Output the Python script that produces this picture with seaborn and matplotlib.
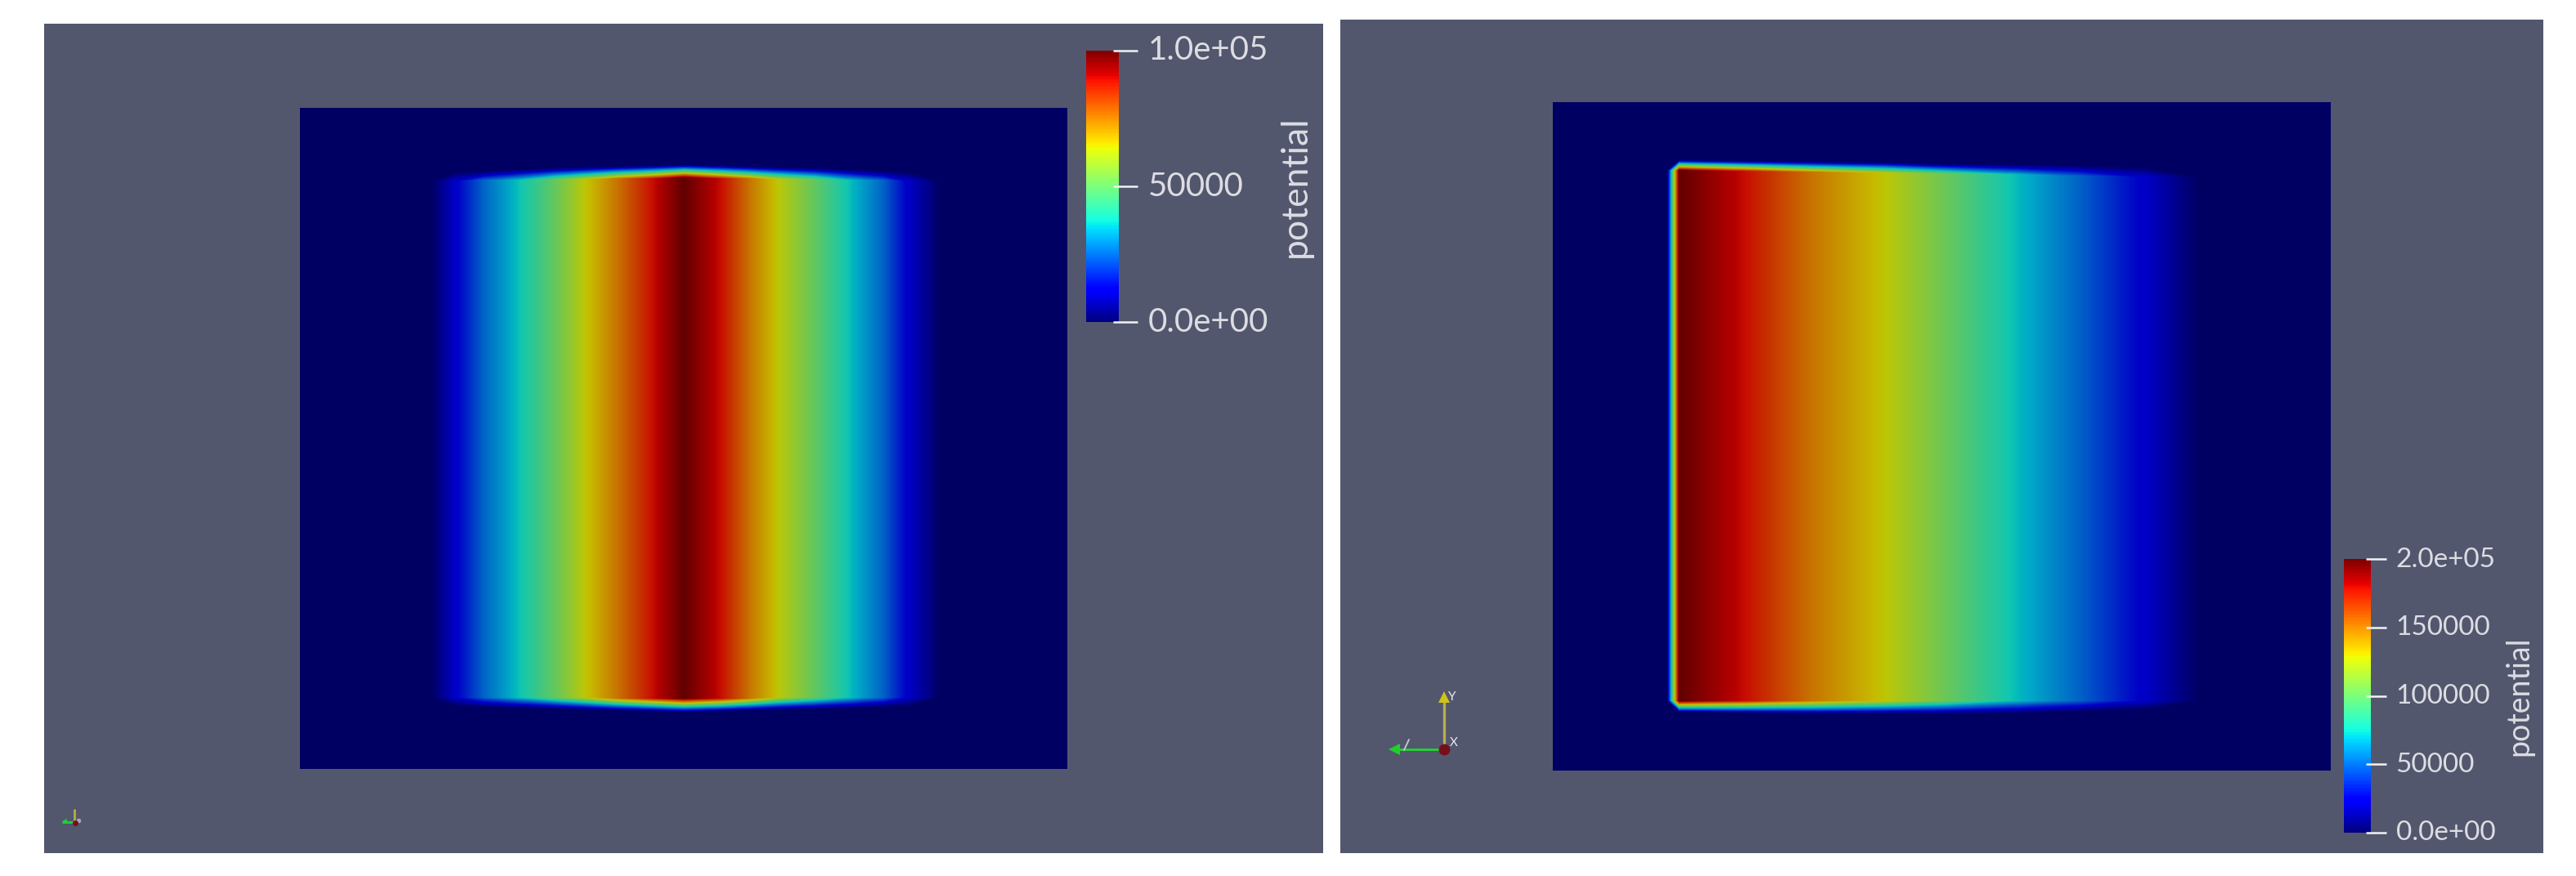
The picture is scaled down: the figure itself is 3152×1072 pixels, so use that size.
import matplotlib
matplotlib.use("Agg")
import matplotlib.pyplot as plt
from matplotlib.colors import ListedColormap
from matplotlib.transforms import ScaledTranslation
import numpy as np
import pandas as pd
import seaborn as sns

W, H = 3152, 1072
DPI = 100
BG = "#52576E"
TXT = "#dcdce2"

# LEFT FIELD (x and edges are picture pixels)
left_x = [367, 528, 557, 592, 633, 678, 716, 755, 799, 837, 882, 917, 952, 997, 1041, 1080, 1112, 1150, 1306]
left_potential = [0, 0, 11000, 25000, 36000, 50000, 64000, 75000, 89000, 100000,
                  89000, 75000, 64000, 50000, 36000, 25000, 11000, 0, 0]
left_top_outer = [212, 212, 211, 210, 208, 206, 205, 204, 203, 202, 203, 204, 205, 206, 208, 210, 211, 212, 212]
left_top_inner = [222, 222, 222, 221, 221, 220, 220, 219, 219, 218, 219, 219, 220, 220, 221, 221, 222, 222, 222]
left_bot_inner = [853, 853, 853, 853, 853, 853, 853, 854, 854, 854, 854, 854, 853, 853, 853, 853, 853, 853, 853]
left_bot_outer = [863, 863, 864, 865, 866, 867, 868, 869, 870, 871, 870, 869, 868, 867, 866, 865, 864, 863, 863]
left_ticks = [0, 50000, 100000]
left_tick_labels = ["0.0e+00", "50000", "1.0e+05"]

# RIGHT FIELD
right_x = [1900, 2040, 2055, 2135, 2218, 2307, 2377, 2467, 2543, 2626, 2690, 2852]
right_potential = [0, 0, 200000, 178000, 150000, 128000, 104000, 72000, 50000, 22000, 0, 0]
right_top_outer = [196, 196, 196, 197, 198, 199, 201, 202, 203, 205, 206, 206]
right_top_inner = [209, 209, 209, 210, 211, 212, 213, 214, 216, 217, 218, 218]
right_bot_inner = [857, 857, 857, 857, 857, 857, 857, 857, 857, 857, 857, 857]
right_bot_outer = [871, 871, 871, 872, 873, 873, 873, 872, 870, 868, 866, 866]
right_ticks = [0, 50000, 100000, 150000, 200000]
right_tick_labels = ["0.0e+00", "50000", "100000", "150000", "2.0e+05"]

bar_title = "potential"

sns.set_theme(style="white")
plt.rcParams["font.family"] = ["Lato", "DejaVu Sans"]

jet = plt.get_cmap("jet")
# surface in the render is lit, so it is darker than the colour bar
lit = jet(np.linspace(0, 1, 256))
lit[:, :3] *= 0.78
lit_cmap = ListedColormap(lit)

fig = plt.figure(figsize=(W / DPI, H / DPI), dpi=DPI, facecolor="white")


def px_axes(x0, y0, x1, y1):
    return fig.add_axes([x0 / W, 1 - y1 / H, (x1 - x0) / W, (y1 - y0) / H])


def panel(rect, plate_rect, bar_rect, xs, vals, top_o, top_i, bot_i, bot_o,
          ticks, tick_labels, fs, title_fs, title_x, tick_span, lab_dy):
    bg = px_axes(*rect)
    bg.set_facecolor(BG)
    bg.set_xlim(rect[0], rect[2])
    bg.set_ylim(rect[3], rect[1])
    bg.set_xticks([])
    bg.set_yticks([])
    for s in bg.spines.values():
        s.set_visible(False)

    plate = px_axes(*plate_rect)
    cax = px_axes(*bar_rect)
    vmax = max(ticks)
    sns.heatmap(pd.DataFrame([[0.0]]), ax=plate, cbar_ax=cax, cmap=jet, vmin=0, vmax=vmax,
                xticklabels=False, yticklabels=False,
                cbar_kws={"ticks": ticks})

    # mesh follows the curved edges of the bright region
    x = (np.array(xs) - plate_rect[0]) / (plate_rect[2] - plate_rect[0])
    ph = plate_rect[3] - plate_rect[1]
    v = np.array(vals, dtype=float)
    rows = [np.zeros(len(x)), (np.array(top_o) - plate_rect[1]) / ph, (np.array(top_i) - plate_rect[1]) / ph,
            (np.array(bot_i) - plate_rect[1]) / ph, (np.array(bot_o) - plate_rect[1]) / ph, np.ones(len(x))]
    Y = np.array(rows)
    X = np.tile(x, (6, 1))
    Z = np.array([np.zeros(len(x)), np.zeros(len(x)), v, v, np.zeros(len(x)), np.zeros(len(x))])
    plate.contourf(X, Y, Z, levels=np.linspace(0, vmax, 257), cmap=lit_cmap, vmin=0, vmax=vmax)
    for s in plate.spines.values():
        s.set_visible(False)

    cax.set_yticks(ticks)
    cax.set_yticklabels(tick_labels)
    cax.tick_params(axis="y", length=0, right=False, labelcolor=TXT, labelsize=fs, pad=tick_span[2])
    shift = ScaledTranslation(0, lab_dy / DPI, fig.dpi_scale_trans)
    for lab in cax.get_yticklabels():
        lab.set_transform(lab.get_transform() + shift)
    cax.hlines(ticks, tick_span[0], tick_span[1], transform=cax.get_yaxis_transform(),
               colors="#f2f2f2", linewidth=1.8, clip_on=False)
    cax.yaxis.set_label_position("right")
    cax.set_ylabel(bar_title, color=TXT, fontsize=title_fs, rotation=90, va="center")
    cax.yaxis.set_label_coords(title_x, 0.5)
    return bg


ax_l = panel((54, 29, 1619, 1044), (367, 132, 1306, 941), (1329, 62, 1369, 394),
             left_x, left_potential, left_top_outer, left_top_inner, left_bot_inner, left_bot_outer,
             left_ticks, left_tick_labels, 29, 32, 6.4, (0.83, 1.58, 26), 3.5)
ax_r = panel((1640, 24, 3112, 1044), (1900, 125, 2852, 943), (2868, 684, 2901, 1019),
             right_x, right_potential, right_top_outer, right_top_inner, right_bot_inner, right_bot_outer,
             right_ticks, right_tick_labels, 24, 27, 6.5, (0.82, 1.58, 22), 2.5)

# orientation triads
ax_r.plot([1767, 1767], [917, 855], color="#b8ae4a", lw=2.4, solid_capstyle="butt")
ax_r.plot([1767, 1708], [917, 917], color="#22d82e", lw=2.0, solid_capstyle="butt")
ax_r.plot([1767], [853], marker="^", ms=10, color="#cfc218", mew=0)
ax_r.plot([1706], [917], marker="<", ms=10, color="#1fd02a", mew=0)
ax_r.plot([1767], [917], marker="o", ms=10, color="#74101c", mew=0)
ax_r.plot([1718, 1724], [918, 905], color="#c4c4cc", lw=1.4)
ax_r.text(1777, 853, "Y", color="#e8e8ec", fontsize=11, ha="center", va="center")
ax_r.text(1779, 909, "X", color="#e8e8ec", fontsize=11, ha="center", va="center")

ax_l.plot([91, 91], [1006, 990], color="#b8ae3a", lw=2.0, solid_capstyle="butt")
ax_l.plot([91, 76], [1006, 1006], color="#22d03a", lw=2.0, solid_capstyle="butt")
ax_l.plot([79], [1005], marker="<", ms=5, color="#22d03a", mew=0)
ax_l.plot([96], [1004], marker="o", ms=4, color="#a8a8b4", mew=0)
ax_l.plot([92], [1007], marker="o", ms=5, color="#74101c", mew=0)

fig.savefig("out.png", dpi=DPI, facecolor="white")
